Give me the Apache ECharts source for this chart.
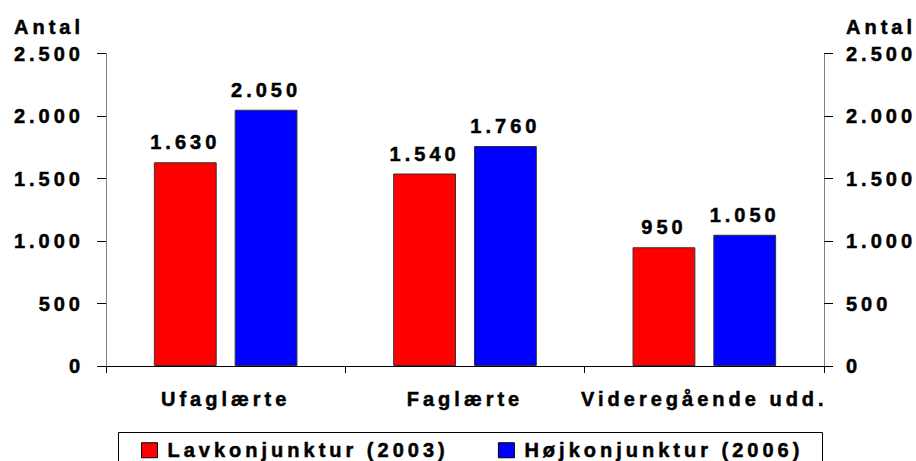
<!DOCTYPE html>
<html>
<head>
<meta charset="utf-8">
<script src="https://cdn.jsdelivr.net/npm/echarts@6/dist/echarts.min.js"></script>
<style>
    html, body { margin: 0; padding: 0; background: #fff; }
    #chart { width: 916px; height: 461px; }
    /* den brede spærring af teksten som i originalen */
    #chart text { letter-spacing: 4px; }
</style>
</head>
<body>
<div id="chart"></div>
<script type="text/javascript">
    var categories = ['Ufaglærte', 'Faglærte', 'Videregående udd.'];
    var lavkonjunktur = [1630, 1540, 950];
    var hojkonjunktur = [2050, 1760, 1050];
    var seriesNames = ['Lavkonjunktur (2003)', 'Højkonjunktur (2006)'];
    var yTicks = [0, 500, 1000, 1500, 2000, 2500];

    // dansk tusindtalsseparator
    function fmt(v) {
        return String(v).replace(/\B(?=(\d{3})+(?!\d))/g, '.');
    }

    var FONT = '"Liberation Sans", Arial, sans-serif';
    var txt = {
        fontFamily: FONT, fontWeight: 'bold', fontSize: 20, color: '#000',
        textBorderColor: '#000', textBorderWidth: 0.5
    };

    var chart = echarts.init(document.getElementById('chart'), null, { renderer: 'svg' });

    var yBase = {
        type: 'value',
        min: yTicks[0],
        max: yTicks[yTicks.length - 1],
        interval: yTicks[1] - yTicks[0],
        name: 'Antal',
        nameLocation: 'end',
        nameGap: 27,
        axisLine: { show: true, lineStyle: { color: '#808080', width: 1 } },
        axisTick: { show: true, length: 9, lineStyle: { color: '#000' } },
        splitLine: { show: false },
        axisLabel: Object.assign({}, txt, {
            formatter: function (v) { return fmt(v); }
        })
    };

    var option = {
        animation: false,
        backgroundColor: '#fff',
        grid: { left: 106, right: 92, top: 53.5, bottom: 95 },
        legend: {
            data: seriesNames,
            left: 141,
            top: 440,
            padding: 0,
            itemWidth: 16,
            itemHeight: 15,
            itemGap: 129,
            icon: 'rect',
            itemStyle: { borderColor: '#000', borderWidth: 1 },
            textStyle: Object.assign({}, txt, { padding: [0, 0, 0, 5] })
        },
        graphic: [{
            type: 'rect',
            shape: { x: 118.5, y: 432.5, width: 704, height: 40 },
            style: { fill: 'none', stroke: '#000', lineWidth: 1 },
            silent: true
        }],
        xAxis: {
            type: 'category',
            data: categories,
            axisLine: { show: true, lineStyle: { color: '#000', width: 1 } },
            axisTick: { show: true, length: 7, lineStyle: { color: '#000' } },
            axisLabel: Object.assign({}, txt, { margin: 23, interval: 0 })
        },
        yAxis: [
            Object.assign({}, yBase, {
                position: 'left',
                nameTextStyle: Object.assign({}, txt, { align: 'right', verticalAlign: 'middle', padding: [0, 22, 0, 0] }),
                axisLabel: Object.assign({}, yBase.axisLabel, { margin: 22 })
            }),
            Object.assign({}, yBase, {
                position: 'right',
                nameTextStyle: Object.assign({}, txt, { align: 'left', verticalAlign: 'middle', padding: [0, 0, 0, 22] }),
                axisLabel: Object.assign({}, yBase.axisLabel, { margin: 22 })
            })
        ],
        series: [
            {
                name: seriesNames[0],
                type: 'bar',
                data: lavkonjunktur,
                barGap: '28.6%',
                barCategoryGap: '40%',
                itemStyle: { color: '#ff0000', borderColor: '#333', borderWidth: 1 },
                label: Object.assign({}, txt, {
                    show: true, position: 'top', distance: 10,
                    formatter: function (p) { return fmt(p.value); }
                })
            },
            {
                name: seriesNames[1],
                type: 'bar',
                data: hojkonjunktur,
                itemStyle: { color: '#0000ff', borderColor: '#333', borderWidth: 1 },
                label: Object.assign({}, txt, {
                    show: true, position: 'top', distance: 10,
                    formatter: function (p) { return fmt(p.value); }
                })
            }
        ]
    };

    chart.setOption(option);
</script>
</body>
</html>
